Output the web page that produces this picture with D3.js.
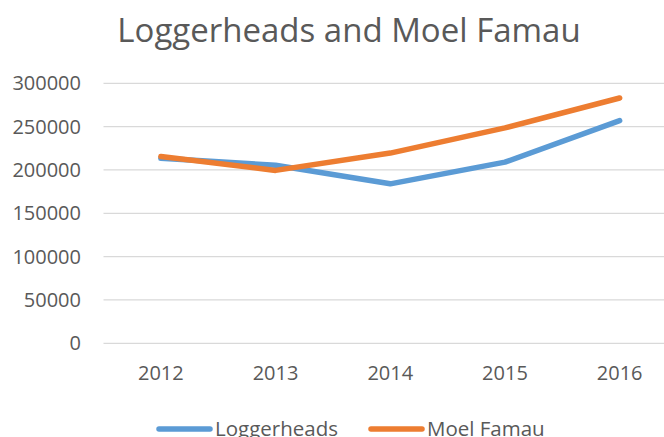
<!DOCTYPE html>
<html><head><meta charset="utf-8">
<script src="https://cdn.jsdelivr.net/npm/d3@7"></script>
<style>body{margin:0;background:#fff}svg{display:block}text{font-family:"Open Sans",sans-serif;fill:#595959}</style>
</head><body><svg id="c" width="664" height="437"></svg>
<script>
const years = ["2012","2013","2014","2015","2016"];
const loggerheads = [213500, 205500, 184000, 209000, 257000];
const moelFamau = [215500, 199500, 219500, 248500, 283000];
const yTicks = [0, 50000, 100000, 150000, 200000, 250000, 300000];
const seriesNames = ["Loggerheads", "Moel Famau"];
const colors = ["#5B9BD5", "#ED7D31"];

const svg = d3.select("#c");
const x = d3.scaleBand().domain(years).range([103.5, 677]);
const y = d3.scaleLinear().domain([0, 300000]).range([343.3, 83.3]);

svg.append("text").attr("x", 349).attr("y", 42).attr("text-anchor", "middle")
  .style("font-size", "33px").text("Loggerheads and Moel Famau");

const grid = svg.append("g");
grid.selectAll("line").data(yTicks).join("line")
  .attr("x1", 103.5).attr("x2", 677)
  .attr("y1", d => y(d)).attr("y2", d => y(d))
  .attr("stroke", "#D9D9D9").attr("stroke-width", 1.3);

const yAxis = svg.append("g").attr("transform", "translate(88,0)")
  .call(d3.axisLeft(y).tickValues(yTicks).tickSize(0).tickPadding(7).tickFormat(d3.format("d")));
yAxis.select(".domain").remove();
yAxis.selectAll("text").style("font-size", "20px").style("font-family", "'Open Sans',sans-serif").attr("fill", "#595959");

const xAxis = svg.append("g").attr("transform", "translate(0,343.3)")
  .call(d3.axisBottom(x).tickSize(0).tickPadding(23));
xAxis.select(".domain").remove();
xAxis.selectAll("text").style("font-size", "20px").style("font-family", "'Open Sans',sans-serif").attr("fill", "#595959");

const line = d3.line().x((d, i) => x(years[i]) + x.bandwidth() / 2).y(d => y(d));
[loggerheads, moelFamau].forEach((s, k) => {
  svg.append("path").datum(s).attr("d", line).attr("fill", "none")
    .attr("stroke", colors[k]).attr("stroke-width", 5.5)
    .attr("stroke-linecap", "round").attr("stroke-linejoin", "round");
});

const legX = [157, 369];
seriesNames.forEach((n, k) => {
  svg.append("line").attr("x1", legX[k] + 2).attr("x2", legX[k] + 53).attr("y1", 429).attr("y2", 429)
    .attr("stroke", colors[k]).attr("stroke-width", 5.5).attr("stroke-linecap", "round");
  svg.append("text").attr("x", legX[k] + 58).attr("y", 436).style("font-size", "20.5px").text(n);
});
</script></body></html>
